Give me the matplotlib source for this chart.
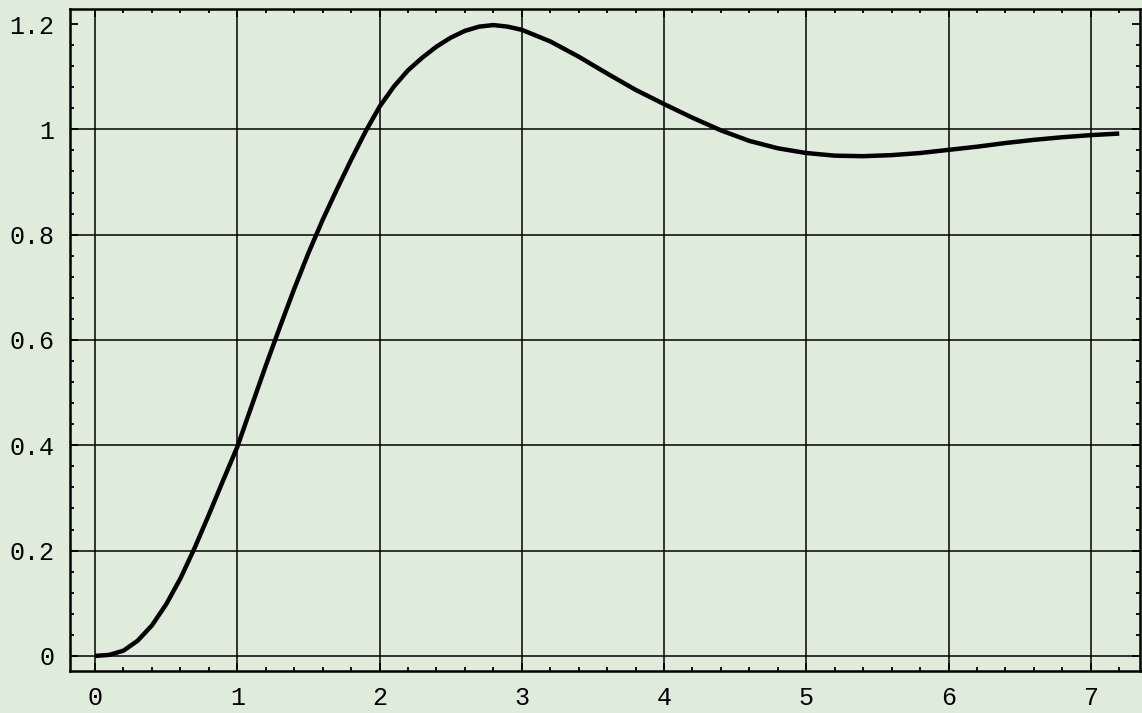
import numpy as np
import matplotlib
matplotlib.use("Agg")
import matplotlib.pyplot as plt
from matplotlib.ticker import MultipleLocator

# step response
t = [0.0, 0.1, 0.2, 0.3, 0.4, 0.5, 0.6, 0.7, 0.8, 0.9,
     1.0, 1.1, 1.2, 1.3, 1.4, 1.5, 1.6, 1.7, 1.8, 1.9,
     2.0, 2.1, 2.2, 2.3, 2.4, 2.5, 2.6, 2.7, 2.8, 2.9,
     3.0, 3.2, 3.4, 3.6, 3.8, 4.0, 4.2, 4.4, 4.6, 4.8,
     5.0, 5.2, 5.4, 5.6, 5.8, 6.0, 6.2, 6.4, 6.6, 6.8,
     7.0, 7.2]
y = [0.0, 0.002, 0.010, 0.029, 0.058, 0.098, 0.147, 0.205, 0.268, 0.333,
     0.397, 0.474, 0.551, 0.625, 0.697, 0.765, 0.828, 0.886, 0.942, 0.995,
     1.043, 1.081, 1.112, 1.136, 1.157, 1.174, 1.187, 1.195, 1.198, 1.195,
     1.189, 1.167, 1.138, 1.106, 1.075, 1.048, 1.022, 0.998, 0.978, 0.964,
     0.955, 0.950, 0.949, 0.951, 0.955, 0.961, 0.967, 0.974, 0.980, 0.985,
     0.989, 0.992]

x_ticks = [0, 1, 2, 3, 4, 5, 6, 7]
y_ticks = [0, 0.2, 0.4, 0.6, 0.8, 1.0, 1.2]
y_labels = ["0", "0.2", "0.4", "0.6", "0.8", "1", "1.2"]
grid_y = [0, 0.2, 0.4, 0.6, 0.8, 1.0]

bg = "#dfecdb"

fig = plt.figure(figsize=(11.42, 7.13), dpi=100, facecolor=bg)
ax = fig.add_axes([0.0613, 0.059, 0.9367, 0.928], facecolor=bg)

# grid lines (Mathematica style, plain black)
for gx in x_ticks:
    ax.axvline(gx, color="black", lw=1.1, zorder=1)
for gy in grid_y:
    ax.axhline(gy, color="black", lw=1.1, zorder=1)

ax.plot(t, y, color="black", lw=3.2, solid_capstyle="butt",
        solid_joinstyle="round", zorder=3)

ax.set_xlim(-0.176, 7.344)
ax.set_ylim(-0.0285, 1.228)

ax.set_xticks(x_ticks)
ax.set_xticklabels([str(v) for v in x_ticks])
ax.set_yticks(y_ticks)
ax.set_yticklabels(y_labels)
ax.xaxis.set_minor_locator(MultipleLocator(0.2))
ax.yaxis.set_minor_locator(MultipleLocator(0.04))

ax.tick_params(which="both", direction="in", top=True, right=True,
               color="black", width=1.3)
ax.tick_params(which="major", length=5.5, labelsize=18)
ax.tick_params(axis="x", which="major", pad=11)
ax.tick_params(axis="y", which="major", pad=11)
ax.tick_params(which="minor", length=3)
for lab in ax.get_xticklabels() + ax.get_yticklabels():
    lab.set_family(["Liberation Mono", "DejaVu Sans Mono"])

for sp in ax.spines.values():
    sp.set_linewidth(1.8)
    sp.set_color("black")

fig.savefig("out.png", dpi=100, facecolor=bg)
